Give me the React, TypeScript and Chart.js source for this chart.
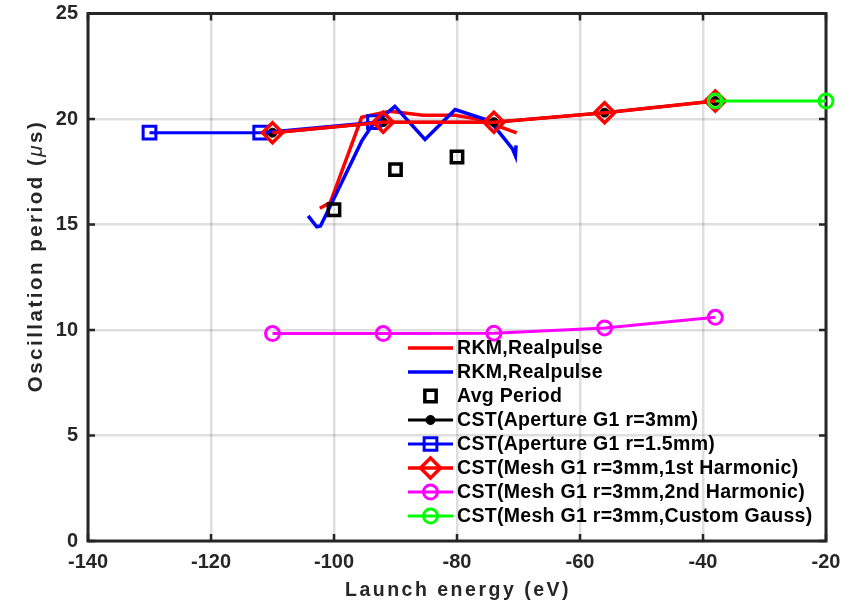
import React, { useEffect, useRef } from "react";
import { Chart, registerables } from "chart.js";

Chart.register(...registerables);

const FONT = "'Liberation Sans', Arial, Helvetica, sans-serif";

// ---------- data ----------
const xTicks = [-140, -120, -100, -80, -60, -40, -20];
const yTicks = [0, 5, 10, 15, 20, 25];

const rkmRedX = [-102.3, -100.6, -95.5, -92.3, -90.9, -85.5, -80.3, -76.3, -70.3];
const rkmRedY = [15.77, 16.04, 20.08, 20.29, 20.37, 20.18, 20.18, 19.98, 19.34];

const rkmBlueX = [-104.2, -102.8, -102.2, -100.6, -95.5, -93.9, -90.1, -85.2, -80.3, -74.6, -71.0, -70.5, -70.4];
const rkmBlueY = [15.41, 14.89, 14.93, 15.88, 18.95, 19.66, 20.6, 19.03, 20.45, 19.9, 18.6, 18.25, 18.75];

const avgX = [-100, -90, -80];
const avgY = [15.7, 17.6, 18.2];

const aperture3X = [-110, -92, -74, -56, -38];
const aperture3Y = [19.35, 19.85, 19.85, 20.3, 20.85];

const aperture15X = [-130, -112, -93.5];
const aperture15Y = [19.35, 19.35, 19.85];

const mesh1X = [-110, -92, -74, -56, -38];
const mesh1Y = [19.35, 19.85, 19.85, 20.3, 20.85];

const mesh2X = [-110, -92, -74, -56, -38];
const mesh2Y = [9.83, 9.83, 9.85, 10.1, 10.6];

const gaussX = [-38, -20];
const gaussY = [20.85, 20.85];

const seriesLabels = [
  "RKM,Realpulse",
  "RKM,Realpulse",
  "Avg Period",
  "CST(Aperture G1 r=3mm)",
  "CST(Aperture G1 r=1.5mm)",
  "CST(Mesh G1 r=3mm,1st Harmonic)",
  "CST(Mesh G1 r=3mm,2nd Harmonic)",
  "CST(Mesh G1 r=3mm,Custom Gauss)",
];

const xTitle = "Launch energy (eV)";
const yTitleParts = ["Oscillation period (", "\u03bc", "s)"];

const pts = (xs: number[], ys: number[]) => xs.map((x, i) => ({ x, y: ys[i] }));

// ---------- helpers ----------
function drawMarker(
  ctx: CanvasRenderingContext2D,
  style: string,
  x: number,
  y: number,
  r: number,
  stroke: string,
  fill: string,
  lw: number
) {
  if (!r) return;
  ctx.beginPath();
  if (style === "circle") {
    ctx.arc(x, y, r, 0, Math.PI * 2);
  } else if (style === "rect") {
    const s = r * Math.SQRT1_2;
    ctx.rect(x - s, y - s, 2 * s, 2 * s);
  } else if (style === "rectRot") {
    ctx.moveTo(x - r, y);
    ctx.lineTo(x, y - r);
    ctx.lineTo(x + r, y);
    ctx.lineTo(x, y + r);
    ctx.closePath();
  }
  if (fill && fill !== "transparent") {
    ctx.fillStyle = fill;
    ctx.fill();
  }
  ctx.lineWidth = lw;
  ctx.strokeStyle = stroke;
  ctx.stroke();
}

const framePlugin = {
  id: "matlabFrame",
  beforeDatasetsDraw(chart: any) {
    const { ctx, chartArea: a, scales } = chart;
    ctx.save();
    ctx.strokeStyle = "#262626";
    ctx.lineWidth = 3;
    ctx.strokeRect(a.left, a.top, a.right - a.left, a.bottom - a.top);
    const tl = 7;
    ctx.lineWidth = 2.5;
    ctx.beginPath();
    for (const v of xTicks) {
      const px = scales.x.getPixelForValue(v);
      ctx.moveTo(px, a.bottom);
      ctx.lineTo(px, a.bottom - tl);
      ctx.moveTo(px, a.top);
      ctx.lineTo(px, a.top + tl);
    }
    for (const v of yTicks) {
      const py = scales.y.getPixelForValue(v);
      ctx.moveTo(a.left, py);
      ctx.lineTo(a.left + tl, py);
      ctx.moveTo(a.right, py);
      ctx.lineTo(a.right - tl, py);
    }
    ctx.stroke();
    ctx.restore();
  },
};

const legendPlugin = {
  id: "matlabLegend",
  afterDatasetsDraw(chart: any) {
    const { ctx } = chart;
    const x0 = 408;
    const x1 = 453;
    const xm = (x0 + x1) / 2;
    const textX = 457;
    const top = 348;
    const step = 24;
    ctx.save();
    chart.data.datasets.forEach((ds: any, i: number) => {
      const y = top + i * step;
      if (ds.showLine !== false) {
        ctx.beginPath();
        ctx.moveTo(x0, y);
        ctx.lineTo(x1, y);
        ctx.lineWidth = ds.borderWidth;
        ctx.strokeStyle = ds.borderColor;
        ctx.stroke();
      }
      drawMarker(
        ctx,
        ds.pointStyle,
        xm,
        y,
        ds.pointRadius,
        ds.pointBorderColor || ds.borderColor,
        ds.pointBackgroundColor,
        ds.pointBorderWidth
      );
      ctx.fillStyle = "#000000";
      ctx.font = `bold 19.5px ${FONT}`;
      (ctx as any).letterSpacing = "0.3px";
      ctx.textAlign = "left";
      ctx.textBaseline = "middle";
      ctx.fillText(ds.label, textX, y + 1);
    });
    ctx.restore();
  },
};

const titlesPlugin = {
  id: "axisTitles",
  afterDraw(chart: any) {
    const { ctx, chartArea: a } = chart;
    ctx.save();
    ctx.fillStyle = "#262626";
    (ctx as any).letterSpacing = "2.5px";
    // x title
    ctx.font = `bold 19.5px ${FONT}`;
    ctx.textAlign = "center";
    ctx.textBaseline = "middle";
    ctx.fillText(xTitle, (a.left + a.right) / 2 + 1, 591);

    // y title (rotated), italic mu
    const fonts = [`bold 20.5px ${FONT}`, `italic 20.5px ${FONT}`, `bold 20.5px ${FONT}`];
    const widths = yTitleParts.map((t, i) => {
      ctx.font = fonts[i];
      return ctx.measureText(t).width;
    });
    const total = widths.reduce((s, w) => s + w, 0);
    ctx.translate(36, 256);
    ctx.rotate(-Math.PI / 2);
    ctx.textAlign = "left";
    let cx = -total / 2;
    yTitleParts.forEach((t, i) => {
      ctx.font = fonts[i];
      ctx.fillText(t, cx, 0);
      cx += widths[i];
    });
    ctx.restore();
  },
};

export default function App() {
  const ref = useRef<HTMLCanvasElement | null>(null);

  useEffect(() => {
    if (!ref.current) return;
    const common = { tension: 0, clip: false as const };
    const datasets: any[] = [
      {
        ...common,
        label: seriesLabels[0],
        data: pts(rkmRedX, rkmRedY),
        borderColor: "#ff0000",
        borderWidth: 3.5,
        pointRadius: 0,
        pointStyle: "circle",
        pointBorderWidth: 0,
        pointBackgroundColor: "transparent",
        order: 10,
      },
      {
        ...common,
        label: seriesLabels[1],
        data: pts(rkmBlueX, rkmBlueY),
        borderColor: "#0000ff",
        borderWidth: 3.5,
        pointRadius: 0,
        pointStyle: "circle",
        pointBorderWidth: 0,
        pointBackgroundColor: "transparent",
        order: 9,
      },
      {
        ...common,
        label: seriesLabels[2],
        data: pts(avgX, avgY),
        showLine: false,
        borderColor: "#000000",
        borderWidth: 0,
        pointStyle: "rect",
        pointRadius: 8,
        pointBorderWidth: 3.5,
        pointBorderColor: "#000000",
        pointBackgroundColor: "transparent",
        order: 8,
      },
      {
        ...common,
        label: seriesLabels[3],
        data: pts(aperture3X, aperture3Y),
        borderColor: "#000000",
        borderWidth: 3,
        pointStyle: "circle",
        pointRadius: 4.5,
        pointBorderWidth: 1,
        pointBorderColor: "#000000",
        pointBackgroundColor: "#000000",
        order: 7,
      },
      {
        ...common,
        label: seriesLabels[4],
        data: pts(aperture15X, aperture15Y),
        borderColor: "#0000ff",
        borderWidth: 3,
        pointStyle: "rect",
        pointRadius: 9,
        pointBorderWidth: 3,
        pointBorderColor: "#0000ff",
        pointBackgroundColor: "transparent",
        order: 6,
      },
      {
        ...common,
        label: seriesLabels[5],
        data: pts(mesh1X, mesh1Y),
        borderColor: "#ff0000",
        borderWidth: 3.5,
        pointStyle: "rectRot",
        pointRadius: 10,
        pointBorderWidth: 3.5,
        pointBorderColor: "#ff0000",
        pointBackgroundColor: "transparent",
        order: 5,
      },
      {
        ...common,
        label: seriesLabels[6],
        data: pts(mesh2X, mesh2Y),
        borderColor: "#ff00ff",
        borderWidth: 3,
        pointStyle: "circle",
        pointRadius: 7,
        pointBorderWidth: 3,
        pointBorderColor: "#ff00ff",
        pointBackgroundColor: "transparent",
        order: 4,
      },
      {
        ...common,
        label: seriesLabels[7],
        data: pts(gaussX, gaussY),
        borderColor: "#00ff00",
        borderWidth: 3,
        pointStyle: "circle",
        pointRadius: 7,
        pointBorderWidth: 3,
        pointBorderColor: "#00ff00",
        pointBackgroundColor: "transparent",
        order: 3,
      },
    ];

    const tickFont = { family: FONT, size: 20, weight: "bold" as const };

    const chart = new Chart(ref.current, {
      type: "line",
      data: { datasets },
      options: {
        animation: false,
        responsive: false,
        devicePixelRatio: 1,
        events: [],
        layout: { padding: { top: 12, right: 38, left: 0, bottom: 0 } },
        plugins: {
          legend: { display: false },
          tooltip: { enabled: false },
          title: { display: false },
        },
        scales: {
          x: {
            type: "linear",
            min: -140,
            max: -20,
            afterBuildTicks: (s: any) => {
              s.ticks = xTicks.map((v) => ({ value: v }));
            },
            ticks: {
              font: tickFont,
              color: "#262626",
              padding: 9,
              maxRotation: 0,
              autoSkip: false,
            },
            grid: { color: "rgba(0,0,0,0.13)", lineWidth: 2.5, drawTicks: false },
            border: { display: false },
            title: { display: false },
            afterFit: (s: any) => {
              s.height = 65;
              s.paddingLeft = 0;
              s.paddingRight = 0;
              s.paddingTop = 0;
              s.paddingBottom = 0;
            },
          },
          y: {
            type: "linear",
            min: 0,
            max: 25,
            afterBuildTicks: (s: any) => {
              s.ticks = yTicks.map((v) => ({ value: v }));
            },
            ticks: {
              font: tickFont,
              color: "#262626",
              padding: 10,
              autoSkip: false,
            },
            grid: { color: "rgba(0,0,0,0.13)", lineWidth: 2.5, drawTicks: false },
            border: { display: false },
            title: { display: false },
            afterFit: (s: any) => {
              s.width = 88;
              s.paddingLeft = 0;
              s.paddingRight = 0;
              s.paddingTop = 0;
              s.paddingBottom = 0;
            },
          },
        },
      } as any,
      plugins: [framePlugin, legendPlugin, titlesPlugin],
    });
    return () => chart.destroy();
  }, []);

  return (
    <div style={{ position: "fixed", left: 0, top: 0, width: 864, height: 606, background: "#ffffff" }}>
      <canvas ref={ref} width={864} height={606} style={{ display: "block", width: 864, height: 606 }} />
    </div>
  );
}
